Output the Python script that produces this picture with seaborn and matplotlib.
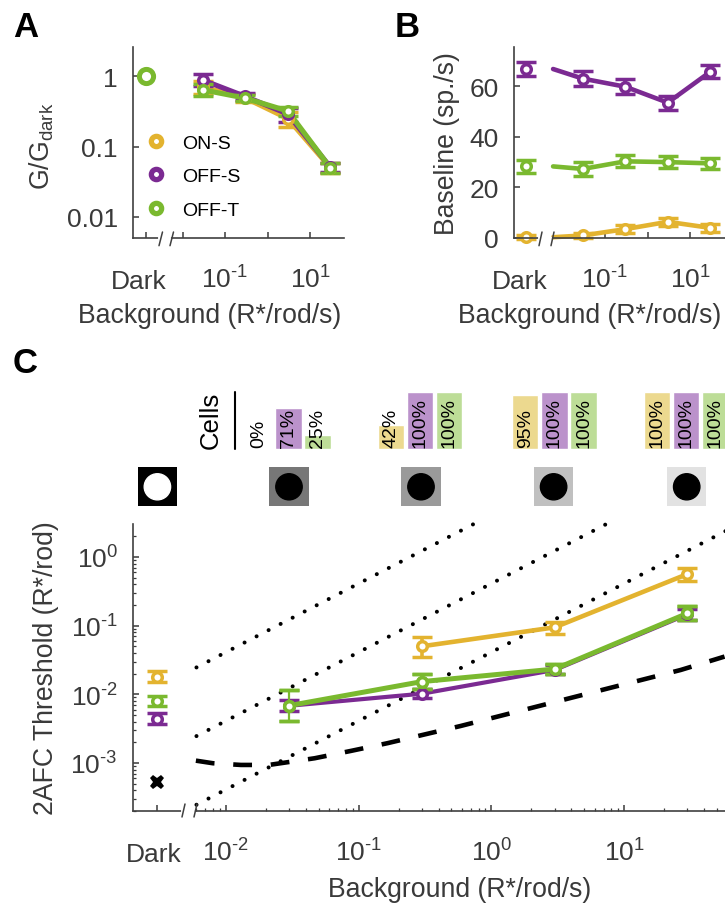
import numpy as np
import pandas as pd
import seaborn as sns
import matplotlib.pyplot as plt
from matplotlib.lines import Line2D
from matplotlib.patches import Circle

W, H = 725, 904

# shared x values
bg = [0.03, 0.3, 3, 30]
dark_a = 10 ** -2.86
dark_b = 10 ** -2.86
dark_c = 10 ** -2.52
line_start = 0.006

names = ['ON-S', 'OFF-S', 'OFF-T']
colors = ['#E3B32F', '#7B2A92', '#7AB92F']
light = ['#ECD98F', '#BB92CB', '#BDDD97']

# panel A, gain relative to dark
a_on = [0.70, 0.49, 0.25, 0.050]
a_on_lo = [0.56, 0.43, 0.19, 0.042]
a_on_hi = [0.86, 0.55, 0.31, 0.058]
a_off_s = [0.88, 0.515, 0.29, 0.051]
a_off_s_lo = [0.72, 0.46, 0.225, 0.043]
a_off_s_hi = [1.06, 0.57, 0.35, 0.059]
a_off_t = [0.64, 0.487, 0.32, 0.050]
a_off_t_lo = [0.53, 0.44, 0.27, 0.042]
a_off_t_hi = [0.78, 0.54, 0.37, 0.059]
a_dark = 1.0

# panel B, baseline rate
b_on = [1.0, 3.5, 6.4, 4.0]
b_on_err = [1.0, 1.5, 1.5, 1.5]
b_off_s = [63, 59.8, 53.5, 65.7]
b_off_s_err = [3.0, 3.0, 2.8, 2.5]
b_off_t = [27.3, 30.3, 30.0, 29.5]
b_off_t_err = [2.6, 2.4, 2.4, 2.1]
b_dark = [0.5, 66.8, 28.4]
b_dark_err = [0.7, 2.6, 2.6]
b_start = [0.3, 66.8, 28.3]

# panel C, thresholds
c_bg_on = [0.3, 3, 30]
c_on = [0.05, 0.0944, 0.564]
c_on_lo = [0.0354, 0.0764, 0.452]
c_on_hi = [0.069, 0.114, 0.698]
c_off_s = [0.0068, 0.0102, 0.0226, 0.146]
c_off_s_lo = [0.0058, 0.0087, 0.0195, 0.122]
c_off_s_hi = [0.0083, 0.012, 0.027, 0.172]
c_off_t = [0.00684, 0.0153, 0.0233, 0.151]
c_off_t_lo = [0.00415, 0.0118, 0.0197, 0.121]
c_off_t_hi = [0.0116, 0.0197, 0.0278, 0.193]
c_dark = [0.0181, 0.00437, 0.0081]
c_dark_lo = [0.0149, 0.00363, 0.00684]
c_dark_hi = [0.0219, 0.00525, 0.00959]
c_ideal_dark = 0.000534

ideal_x = [0.00594, 0.00798, 0.01297, 0.0211, 0.0287, 0.0466, 0.0879, 0.165, 0.589, 2.1, 7.48, 26.7, 57.1]
ideal_y = [0.00108, 0.00099, 0.000935, 0.000935, 0.00102, 0.00117, 0.0015, 0.00194, 0.00346, 0.00647, 0.0121, 0.0226, 0.0354]
weber_x0 = [0.006, 0.006, 0.006]
weber_x1 = [0.8, 8.0, 66]
weber_k = [4.1, 0.41, 0.041]

# percent of cells per background
pct_on = [0, 42, 95, 100]
pct_off_s = [71, 100, 100, 100]
pct_off_t = [25, 100, 100, 100]
bar_centers = [288.4, 420, 554.4, 686]
thumb_centers = [157.4, 289, 421, 553.6, 686.7]
thumb_bg = ['#000000', '#777777', '#9A9A9A', '#C0C0C0', '#E2E2E2']
thumb_fg = ['#FFFFFF', '#000000', '#000000', '#000000', '#000000']

sns.set_theme(style='ticks', rc={
    'axes.edgecolor': '#404040', 'axes.linewidth': 1.2,
    'xtick.color': '#3A3A3A', 'ytick.color': '#3A3A3A',
    'text.color': '#3A3A3A', 'axes.labelcolor': '#3A3A3A',
    'mathtext.fontset': 'custom', 'mathtext.rm': 'Liberation Sans',
    'mathtext.default': 'regular',
})
plt.rcParams['font.family'] = ['Liberation Sans', 'DejaVu Sans']

fig = plt.figure(figsize=(W / 100, H / 100), dpi=100)
FS = 19


def px_axes(x0, x1, y_top, y_bottom):
    return fig.add_axes([x0 / W, 1 - y_bottom / H, (x1 - x0) / W, (y_bottom - y_top) / H])


def px_line(xs, ys, **kw):
    fig.add_artist(Line2D([x / W for x in xs], [1 - y / H for y in ys],
                          transform=fig.transFigure, **kw))


def draw_series(ax, x, y, lo, hi, color, line_x=None, line_y=None, lw=3.3, elw=2.6, cap=7.2):
    lx = x if line_x is None else line_x
    ly = y if line_y is None else line_y
    df = pd.DataFrame({'x': lx, 'y': ly})
    sns.lineplot(data=df, x='x', y='y', color=color, lw=lw, ax=ax, estimator=None,
                 sort=False, legend=False, clip_on=False)
    y = np.array(y)
    ax.errorbar(x, y, yerr=[y - np.array(lo), np.array(hi) - y], fmt='o', ms=6.9, mew=2.5,
                mfc='white', mec=color, ecolor=color, elinewidth=elw, capsize=cap,
                capthick=elw, clip_on=False, ls='none')


def style_axes(ax, xlab_center, xlab_base, ylab_center, ylab_base, ylabel, x0, x1, top, bottom):
    sns.despine(ax=ax)
    ax.set_xlabel('Background (R*/rod/s)', fontsize=19.2, va='baseline')
    ax.set_ylabel(ylabel, fontsize=19.2, va='baseline')
    ax.xaxis.set_label_coords((xlab_center - x0) / (x1 - x0), (bottom - xlab_base) / (bottom - top))
    ax.yaxis.set_label_coords((ylab_base - x0) / (x1 - x0), (bottom - ylab_center) / (bottom - top))
    ax.tick_params(axis='both', which='major', direction='in', length=4, width=1.1, labelsize=FS)
    ax.tick_params(axis='x', which='major', pad=36)
    ax.tick_params(axis='y', which='major', pad=11)
    for t in ax.get_xticklabels():
        t.set_va('baseline')


def dark_label(ax, x, xoff):
    ax.annotate('Dark', xy=(x, 0), xycoords=ax.get_xaxis_transform(), xytext=(xoff, -36),
                textcoords='offset points', ha='center', va='baseline', fontsize=FS)


def axis_break(x1, x2, xa, xb, y, y_low, y_high):
    px_line([x1 + 1, x2 - 1], [y, y], color='white', lw=3, zorder=5)
    px_line([x1, x1 + xa], [y_low, y_high], color='#404040', lw=1.1, zorder=6)
    px_line([x2, x2 + xb], [y_low, y_high], color='#404040', lw=1.1, zorder=6)


# panel A
ax_a = px_axes(133, 344, 48, 239)
ax_a.set_xscale('log')
ax_a.set_yscale('log')
for x_vals, lo, hi, c in [(a_on, a_on_lo, a_on_hi, colors[0]),
                          (a_off_s, a_off_s_lo, a_off_s_hi, colors[1]),
                          (a_off_t, a_off_t_lo, a_off_t_hi, colors[2])]:
    draw_series(ax_a, bg, x_vals, lo, hi, c, lw=3.7, elw=2.8)
ax_a.plot([dark_a], [a_dark], 'o', ms=10.2, mew=3.6, mfc='white', mec=colors[2], clip_on=False)
ax_a.set_xlim(10 ** -3.165, 10 ** 1.8)
ax_a.set_ylim(0.0050, 2.6)
ax_a.set_xticks([dark_a, 0.01, 0.1, 1, 10], ['', '', r'$10^{\text{-}1}$', '', '$10^{1}$'])
ax_a.set_xticks([], minor=True)
ax_a.set_yticks([1, 0.1, 0.01], ['1', '0.1', '0.01'])
ax_a.set_yticks([], minor=True)
style_axes(ax_a, 210, 323, 146, 50, 'G/G$_{dark}$', 133, 344, 48, 239)
dark_label(ax_a, dark_a, -5)
axis_break(159, 170, 3.5, 3.5, 239, 246.7, 233)
handles = [Line2D([], [], marker='o', ls='none', ms=7.4, mew=3.8, mfc='white', mec=c) for c in colors]
leg = fig.legend(handles, names, loc='upper left', bbox_to_anchor=(146.3 / W, 1 - 135 / H), frameon=False,
                 fontsize=14, handlelength=1, handletextpad=0.84, labelspacing=0.82, borderpad=0,
                 borderaxespad=0, labelcolor='black')

# panel B
ax_b = px_axes(514, 725, 48, 239)
ax_b.set_xscale('log')
for i, (vals, err) in enumerate([(b_on, b_on_err), (b_off_s, b_off_s_err), (b_off_t, b_off_t_err)]):
    lo = [v - e for v, e in zip(vals, err)]
    hi = [v + e for v, e in zip(vals, err)]
    draw_series(ax_b, bg, vals, lo, hi, colors[i], line_x=[line_start] + bg, line_y=[b_start[i]] + vals)
    draw_series(ax_b, [dark_b], [b_dark[i]], [b_dark[i] - b_dark_err[i]], [b_dark[i] + b_dark_err[i]], colors[i])
ax_b.set_xlim(10 ** (-1 - 91 / 42.5), 10 ** (1 + 35 / 42.5))
ax_b.set_ylim(0, 75.5)
ax_b.set_xticks([dark_b, 0.1, 1, 10], ['', r'$10^{\text{-}1}$', '', '$10^{1}$'])
ax_b.set_xticks([], minor=True)
ax_b.set_yticks([0, 20, 40, 60])
style_axes(ax_b, 590, 323, 144, 453.7, 'Baseline (sp./s)', 514, 725, 48, 239)
dark_label(ax_b, dark_b, -4.5)
axis_break(539, 551, 3, 3, 239, 246.7, 233)

# panel C
ax_c = px_axes(133, 725, 525, 812)
ax_c.set_xscale('log')
ax_c.set_yscale('log')
for k, x0, x1 in zip(weber_k, weber_x0, weber_x1):
    sns.lineplot(x=[x0, x1], y=[k * x0, k * x1], color='black', lw=2.9, ax=ax_c, estimator=None,
                 sort=False, legend=False, ls=(0, (0.01, 3.35)), dash_capstyle='round', clip_on=False)
sns.lineplot(x=ideal_x, y=ideal_y, color='black', lw=3.3, ax=ax_c, estimator=None, sort=False,
             legend=False, ls=(0, (4.1, 4.1)), dash_capstyle='butt', clip_on=False)
draw_series(ax_c, c_bg_on, c_on, c_on_lo, c_on_hi, colors[0])
draw_series(ax_c, bg, c_off_s, c_off_s_lo, c_off_s_hi, colors[1], lw=3.0)
draw_series(ax_c, bg[:1], c_off_t[:1], c_off_t_lo[:1], c_off_t_hi[:1], colors[2], elw=1.6)
draw_series(ax_c, bg, c_off_t, c_off_t_lo, c_off_t_hi, colors[2], lw=3.6, elw=0)
for i in range(1, 4):
    draw_series(ax_c, bg[i:i + 1], c_off_t[i:i + 1], c_off_t_lo[i:i + 1], c_off_t_hi[i:i + 1], colors[2])
for i in range(3):
    draw_series(ax_c, [dark_c], [c_dark[i]], [c_dark_lo[i]], [c_dark_hi[i]], colors[i])
ax_c.plot([dark_c], [c_ideal_dark], marker='X', color='black', ms=10.5, mew=0, clip_on=False)
ax_c.set_xlim(10 ** -2.70, 10 ** 1.76)
ax_c.set_ylim(10 ** -3.70, 10 ** 0.48)
ax_c.set_xticks([dark_c, 0.01, 0.1, 1, 10],
                ['', r'$10^{\text{-}2}$', r'$10^{\text{-}1}$', '$10^{0}$', '$10^{1}$'])
minor_x = [m * 10.0 ** e for e in range(-3, 2) for m in range(2, 10) if 0.0055 < m * 10.0 ** e < 60]
ax_c.set_xticks(minor_x, [''] * len(minor_x), minor=True)
ax_c.set_yticks([1, 0.1, 0.01, 0.001],
                ['$10^{0}$', r'$10^{\text{-}1}$', r'$10^{\text{-}2}$', r'$10^{\text{-}3}$'])
minor_y = [m * 10.0 ** e for e in range(-4, 1) for m in range(2, 10) if 10 ** -3.7 < m * 10.0 ** e < 3]
ax_c.set_yticks(minor_y, [''] * len(minor_y), minor=True)
style_axes(ax_c, 459.5, 897, 668.5, 52.7, '2AFC Threshold (R*/rod)', 133, 725, 525, 812)
ax_c.tick_params(axis='both', which='minor', direction='in', length=2.4, width=0.9)
ax_c.tick_params(axis='x', which='major', length=4.5)
ax_c.tick_params(axis='y', which='major', length=4.5)
dark_label(ax_c, dark_c, -2)
axis_break(182, 194, 3, 3, 812, 818, 805)

# cell percentage bars
cats = ['on', 'off_s', 'off_t']
for center, p0, p1, p2 in zip(bar_centers, pct_on, pct_off_s, pct_off_t):
    ax = px_axes(center - 43.8, center + 43.8, 392.7, 450)
    vals = [p0, p1, p2]
    sns.barplot(x=cats, y=vals, hue=cats, palette=light, width=0.9, saturation=1, legend=False, ax=ax)
    ax.set_ylim(0, 100)
    ax.set_xlim(-0.5, 2.5)
    ax.axis('off')
    for j, v in enumerate(vals):
        ax.text(j, 3, f'{v}%', rotation=90, ha='center', va='bottom', fontsize=14, color='black', clip_on=False)
fig.text(210.7 / W, 1 - 420.5 / H, 'Cells', rotation=90, ha='center', va='center', fontsize=18.5, color='black')
px_line([235.4, 235.4], [392.7, 450], color='black', lw=1.5)

# stimulus icons
for center, bg_col, fg_col in zip(thumb_centers, thumb_bg, thumb_fg):
    ax = px_axes(center - 19.7, center + 19.7, 468.3, 507.3)
    ax.set_facecolor(bg_col)
    ax.set_xlim(-1, 1)
    ax.set_ylim(-1, 1)
    ax.add_patch(Circle((0, 0), 0.67, color=fg_col))
    ax.set_xticks([])
    ax.set_yticks([])
    for s in ax.spines.values():
        s.set_visible(False)

# panel letters
for letter, x, y in [('A', 13, 37), ('B', 395, 37), ('C', 13, 373)]:
    fig.text(x / W, 1 - y / H, letter, fontsize=25, fontweight='bold', color='black', ha='left', va='baseline')

fig.savefig('out.png', dpi=100)
